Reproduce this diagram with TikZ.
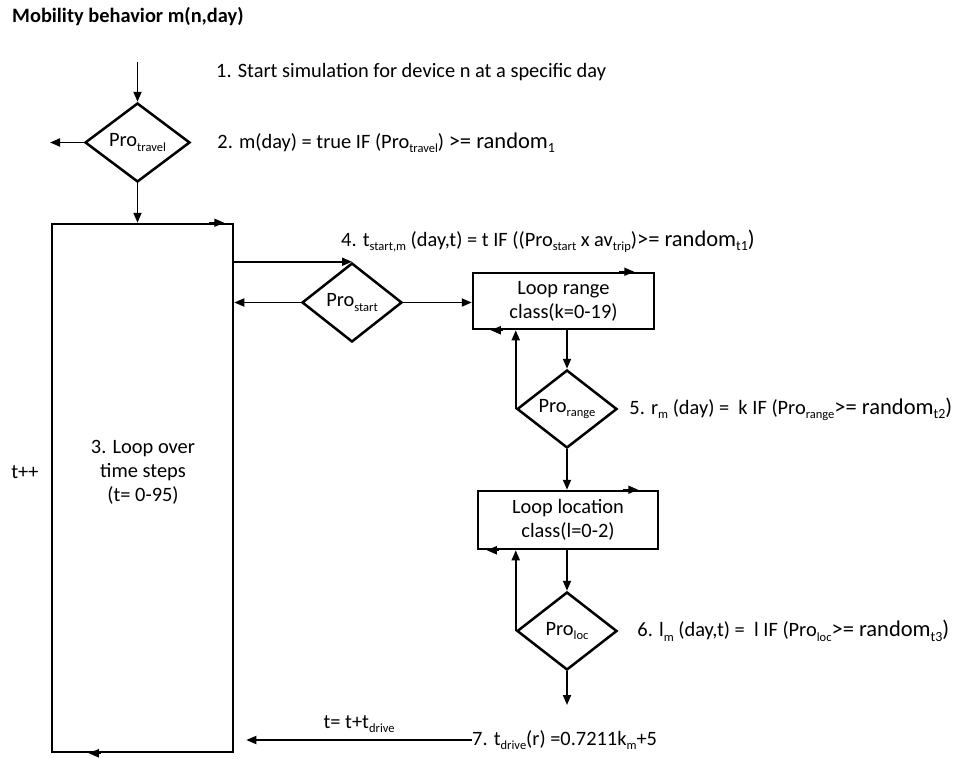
\documentclass[tikz,border=0pt]{standalone}
\usepackage{fontspec}
\setmainfont{Carlito}
\usetikzlibrary{shapes.geometric, arrows.meta, positioning}

\newcommand{\lo}[1]{\raisebox{-0.2em}{\fontsize{12.5}{13}\selectfont #1}}
\newcommand{\rnd}[2]{{\fontsize{22.5}{26}\selectfont >= random\raisebox{-0.2em}{\fontsize{14}{15}\selectfont #1}#2}}

\begin{document}
\begin{tikzpicture}[
    x=1pt, y=-1pt,
    >={Triangle[length=10pt, width=8pt]},
    font=\fontsize{20.4}{24}\selectfont,
    box/.style={draw, line width=2.5pt, inner sep=0pt, align=center},
    dia/.style={draw, diamond, line width=2.5pt, inner sep=0pt, shape aspect=1.3, minimum width=100pt, minimum height=79pt},
    note/.style={inner sep=0pt, anchor=west},
    arrow/.style={->, line width=1.8pt},
  ]
  \useasboundingbox (0,0) rectangle (960,758);

  % --- Title ---
  \node[note, font=\fontsize{20.4}{24}\selectfont\bfseries] (title) at (12,17) {Mobility behavior m(n,day)};

  % --- Travel decision ---
  \coordinate (start) at (137.5,62);
  \coordinate (exit) at (50,142.5);
  \node[dia, minimum width=105pt] (travel) at (137.5,142.5) {Pro\lo{travel}};
  \node[note] (lbl1) at (216,72) {1. Start simulation for device n at a specific day};
  \node[note, right=26pt of travel] (lbl2) {2. m(day) = true IF (Pro\lo{travel}) \rnd{1}{}};

  % --- Time loop ---
  \node[box, minimum width=181pt, minimum height=528pt] (loop) at (142.5,488) {};
  \node[align=center, inner sep=0pt] (looptext) at (143,472) {3. Loop over\\time steps\\(t= 0-95)};
  \node[inner sep=0pt] (tpp) at (25,472) {t++};

  % --- Start decision ---
  \node[dia] (prostart) at (352,302.5) {Pro\lo{start}};
  \node[note] (lbl4) at (341,241) {4. t\lo{start,m} (day,t) = t IF ((Pro\lo{start} x av\lo{trip})\rnd{t1}{)}};

  % --- Range loop ---
  \node[box, minimum width=181pt, minimum height=56pt] (range) at (563.5,301) {Loop range\\class(k=0-19)};
  \node[dia, minimum height=78pt] (prorange) at (567,409) {Pro\lo{range}};
  \node[note, right=11pt of prorange] (lbl5) {5. r\lo{m} (day) = \ k IF (Pro\lo{range}\rnd{t2}{)}};

  % --- Location loop ---
  \node[box, minimum width=180pt, minimum height=58pt] (location) at (568,520) {Loop location\\class(l=0-2)};
  \node[dia, minimum height=78pt] (proloc) at (567,631) {Pro\lo{loc}};
  \node[note, right=19pt of proloc] (lbl6) {6. l\lo{m} (day,t) = \ l IF (Pro\lo{loc}\rnd{t3}{)}};

  % --- Drive time ---
  \coordinate (drive) at (567,705);
  \node[note] (lbl7) at (472,740) {7. t\lo{drive}(r) =0.7211k\lo{m}+5};

  % --- Arrows: travel ---
  \draw[arrow] (start) -- (travel.north);
  \draw[arrow] (travel.west) -- (exit);
  \draw[arrow] (travel.south) -- (travel.south |- loop.north);

  % --- Arrows: time loop ---
  \draw[arrow] ([xshift=-25pt]loop.north east) -- ([xshift=-10pt]loop.north east);
  \draw[arrow] ([xshift=50pt]loop.south west) -- ([xshift=38pt]loop.south west);
  \draw[arrow] (loop.east |- prostart.north) -- (prostart.north);
  \draw[arrow] (prostart.west) -- (loop.east |- prostart.west);
  \draw[arrow] (prostart.east) -- (range.west |- prostart.east);

  % --- Arrows: range loop ---
  \draw[arrow] ([xshift=-36pt]range.north east) -- ([xshift=-21pt]range.north east);
  \draw[arrow] ([xshift=31pt]range.south west) -- ([xshift=19pt]range.south west);
  \draw[arrow] (prorange.north |- range.south) -- (prorange.north);
  \draw[arrow] (prorange.west) -- (prorange.west |- range.south);
  \draw[arrow] (prorange.south) -- (prorange.south |- location.north);

  % --- Arrows: location loop ---
  \draw[arrow] ([xshift=-36pt]location.north east) -- ([xshift=-21pt]location.north east);
  \draw[arrow] ([xshift=22pt]location.south west) -- ([xshift=10pt]location.south west);
  \draw[arrow] (location.south -| proloc.north) -- (proloc.north);
  \draw[arrow] (proloc.west) -- (proloc.west |- location.south);
  \draw[arrow] (proloc.south) -- (drive);

  % --- Arrow: back to time loop ---
  \draw[arrow] (lbl7.west) -- ([xshift=12pt]loop.east |- lbl7.west)
    node[midway, above=3pt] (tdrive) {t= t+t\lo{drive}};

\end{tikzpicture}
\end{document}
